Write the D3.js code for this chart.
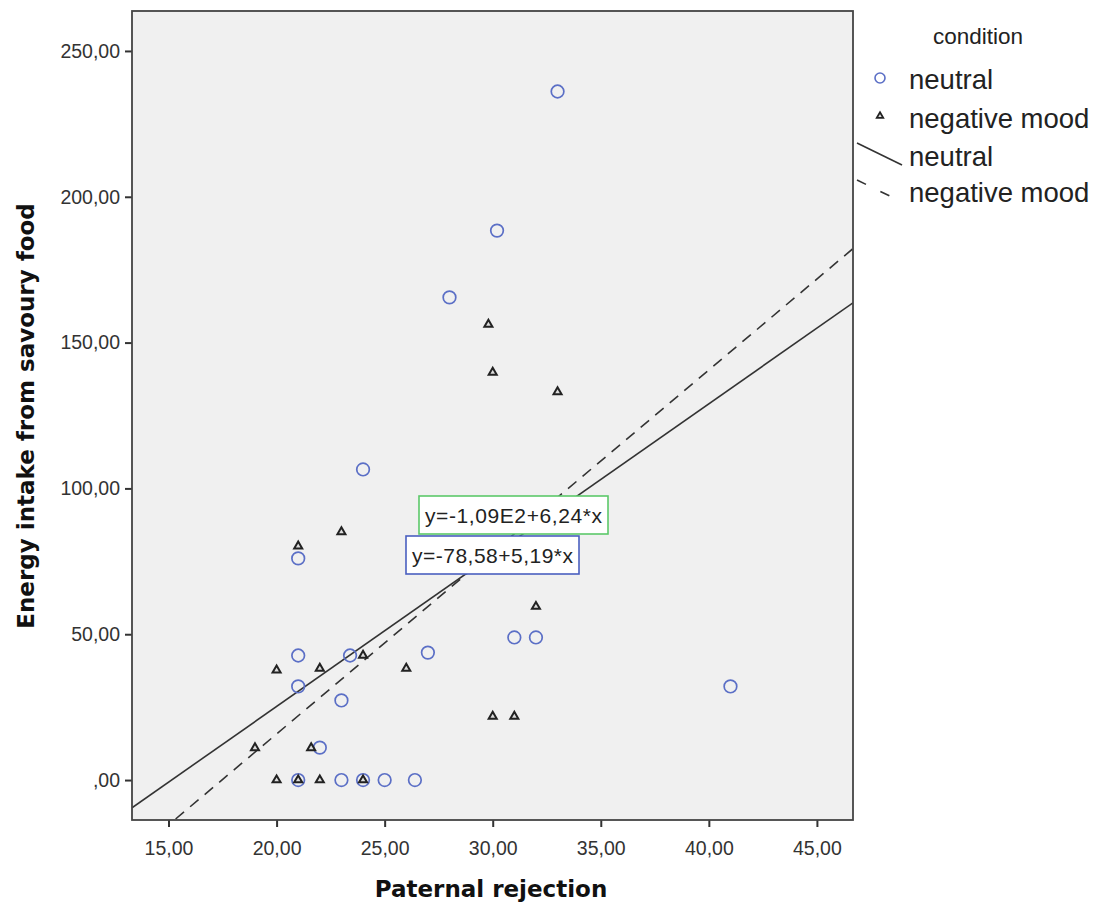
<!DOCTYPE html>
<html><head><meta charset="utf-8">
<script src="https://cdnjs.cloudflare.com/ajax/libs/d3/7.8.5/d3.min.js"></script>
<style>body{margin:0;background:#fff}svg{display:block}</style>
</head><body><svg id="c" width="1107" height="909"></svg>
<script>
// ---- data ----
const neutralX = [33, 30.2, 28, 24, 21, 21, 21, 23.4, 27, 23, 22, 31, 32, 41, 21, 23, 24, 25, 26.4];
const neutralY = [236.1, 188.4, 165.5, 106.5, 76.0, 42.7, 32.1, 42.7, 43.7, 27.3, 11.1, 48.9, 48.9, 32.1, 0, 0, 0, 0, 0];
const negX = [29.8, 30, 33, 23, 21, 20, 22, 24, 26, 19, 21.6, 20, 21, 22, 24, 32, 30, 31];
const negY = [156.2, 139.8, 133.1, 85.1, 80.2, 37.7, 38.3, 42.7, 38.3, 11.0, 11.0, 0, 0, 0, 0, 59.5, 21.8, 21.8];
const fitNames = ["neutral", "negative mood"];
const fitIntercepts = [-78.58, -109];
const fitSlopes = [5.19, 6.24];
const fitLabels = ["y=-78,58+5,19*x", "y=-1,09E2+6,24*x"];
const xTicks = [15, 20, 25, 30, 35, 40, 45];
const yTicks = [0, 50, 100, 150, 200, 250];
const legendTitle = "condition";
const xTitle = "Paternal rejection";
const yTitle = "Energy intake from savoury food";

// ---- layout ----
const L = 132, R = 853, T = 11, B = 820;
const svg = d3.select("#c");
const x = d3.scaleLinear().domain([13.31, 46.67]).range([L, R]);
const y = d3.scaleLinear().domain([-13.7, 263.7]).range([B, T]);
const fmt = v => v === 0 ? ",00" : d3.format(".2f")(v).replace(".", ",");
const BLUE = "#5b6fc6", DARK = "#222";

svg.append("rect").attr("x", L).attr("y", T).attr("width", R - L).attr("height", B - T).attr("fill", "#f0f0f0");

svg.append("defs").append("clipPath").attr("id", "clip")
  .append("rect").attr("x", L).attr("y", T).attr("width", R - L).attr("height", B - T);

// axes
const xa = svg.append("g").attr("transform", `translate(0,${B})`)
  .call(d3.axisBottom(x).tickValues(xTicks).tickFormat(fmt).tickSize(7).tickSizeOuter(0));
const ya = svg.append("g").attr("transform", `translate(${L},0)`)
  .call(d3.axisLeft(y).tickValues(yTicks).tickFormat(fmt).tickSize(7).tickSizeOuter(0));
[xa, ya].forEach(a => {
  a.select(".domain").remove();
  a.selectAll(".tick line").attr("stroke", "#333").attr("stroke-width", 2);
  a.selectAll(".tick text").attr("font-family", "Liberation Sans, Arial, sans-serif")
    .attr("font-size", 19.5).attr("fill", "#333");
});
xa.selectAll(".tick text").attr("dy", "1.3em");
ya.selectAll(".tick text").attr("dx", "-0.1em");

// regression lines
const g = svg.append("g").attr("clip-path", "url(#clip)");
const dom = x.domain();
fitSlopes.forEach((s, i) => {
  const pts = dom.map(v => [x(v), y(fitIntercepts[i] + s * v)]);
  g.append("line").attr("x1", pts[0][0]).attr("y1", pts[0][1]).attr("x2", pts[1][0]).attr("y2", pts[1][1])
    .attr("stroke", "#333").attr("stroke-width", 1.6)
    .attr("stroke-dasharray", i === 1 ? "11,8" : null);
});

// points
g.selectAll("circle.n").data(neutralX.map((v, i) => [v, neutralY[i]])).enter().append("circle")
  .attr("cx", d => x(d[0])).attr("cy", d => y(d[1])).attr("r", 6.3)
  .attr("fill", "none").attr("stroke", BLUE).attr("stroke-width", 1.7);
const tri = d3.symbol().type(d3.symbolTriangle).size(28);
g.selectAll("path.t").data(negX.map((v, i) => [v, negY[i]])).enter().append("path")
  .attr("d", tri).attr("transform", d => `translate(${x(d[0])},${y(d[1])})`)
  .attr("fill", "#ddd").attr("stroke", DARK).attr("stroke-width", 2);

// frame
svg.append("rect").attr("x", L).attr("y", T).attr("width", R - L).attr("height", B - T)
  .attr("fill", "none").attr("stroke", "#444").attr("stroke-width", 1.8);

// fit labels
const boxes = [
  {i: 1, x0: 419, y0: 496, w: 189, h: 38, col: "#5cc96a"},
  {i: 0, x0: 406, y0: 536, w: 173, h: 38, col: "#4a5fc0"}
];
boxes.forEach(b => {
  svg.append("rect").attr("x", b.x0).attr("y", b.y0).attr("width", b.w).attr("height", b.h)
    .attr("fill", "#fff").attr("stroke", b.col).attr("stroke-width", 1.6);
  svg.append("text").attr("x", b.x0 + b.w / 2).attr("y", b.y0 + b.h / 2 + 7.5).attr("text-anchor", "middle")
    .attr("font-family", "Liberation Sans, Arial, sans-serif").attr("font-size", 21).attr("fill", "#222")
    .attr("textLength", b.w - 12).text(fitLabels[b.i]);
});

// axis titles
svg.append("text").attr("x", 491).attr("y", 897).attr("text-anchor", "middle")
  .attr("font-family", "DejaVu Sans, sans-serif").attr("font-weight", "bold").attr("font-size", 23)
  .attr("fill", "#111").text(xTitle);
svg.append("text").attr("transform", `translate(34,416) rotate(-90)`).attr("text-anchor", "middle")
  .attr("font-family", "DejaVu Sans, sans-serif").attr("font-weight", "bold").attr("font-size", 23)
  .attr("fill", "#111").text(yTitle);

// legend
const lf = "Liberation Sans, Arial, sans-serif";
svg.append("text").attr("x", 978).attr("y", 44).attr("text-anchor", "middle").attr("font-family", lf)
  .attr("font-size", 22.5).attr("fill", "#222").text(legendTitle);
svg.append("circle").attr("cx", 880).attr("cy", 78).attr("r", 5).attr("fill", "none").attr("stroke", BLUE).attr("stroke-width", 1.6);
svg.append("path").attr("d", d3.symbol().type(d3.symbolTriangle).size(18)).attr("transform", "translate(880,116)")
  .attr("fill", "#ddd").attr("stroke", DARK).attr("stroke-width", 1.8);
const legItems = ["neutral", "negative mood"].concat(fitNames);
const legY = [89, 128, 166, 202];
legItems.forEach((t, i) => {
  svg.append("text").attr("x", 909).attr("y", legY[i]).attr("font-family", lf).attr("font-size", 27.5)
    .attr("fill", "#222").text(t);
});
svg.append("line").attr("x1", 857).attr("y1", 143).attr("x2", 902).attr("y2", 165).attr("stroke", "#333").attr("stroke-width", 1.6);
svg.append("line").attr("x1", 857).attr("y1", 180).attr("x2", 902).attr("y2", 202).attr("stroke", "#333").attr("stroke-width", 1.6)
  .attr("stroke-dasharray", "10,16");
</script></body></html>
